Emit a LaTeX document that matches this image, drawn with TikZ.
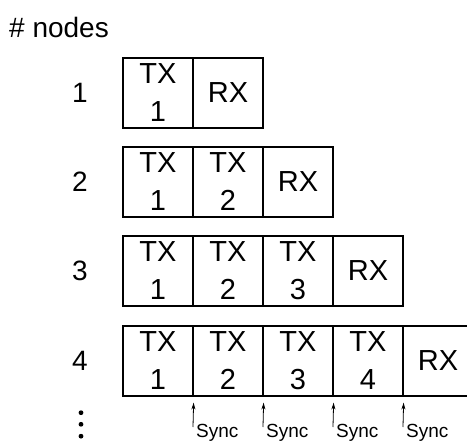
\documentclass[tikz,border=0pt]{standalone}
\usepackage{fontspec}
\setmainfont{Liberation Sans}
\usetikzlibrary{arrows.meta}
\begin{document}
\begin{tikzpicture}[x=1pt,y=-1pt,
  cell/.style={draw,line width=1.2pt,minimum width=70pt,minimum height=70pt,inner sep=0pt,align=center,font=\fontsize{29}{38}\selectfont},
  rowlab/.style={font=\fontsize{28}{32}\selectfont,inner sep=0pt},
  synclab/.style={font=\fontsize{19}{22}\selectfont,inner sep=0pt,anchor=base west},
  syncarrow/.style={line width=0.8pt,-{Stealth[length=7pt,width=4pt]}},
  dotmark/.style={fill=black,circle,inner sep=0pt,minimum size=4.8pt}]
\useasboundingbox (0,0) rectangle (467,442);
\clip (0,0) rectangle (467,442);
\node[font=\fontsize{28}{32}\selectfont,inner sep=0pt,anchor=base west] (title) at (9,37) {\# nodes};
% row 1
\node[rowlab] (l1) at (80,93) {1};
\node[cell] (r1a) at (158,93) {TX\\1};
\node[cell] (r1b) at (228,93) {RX};
% row 2
\node[rowlab] (l2) at (80,182) {2};
\node[cell] (r2a) at (158,182) {TX\\1};
\node[cell] (r2b) at (228,182) {TX\\2};
\node[cell] (r2c) at (298,182) {RX};
% row 3
\node[rowlab] (l3) at (80,271) {3};
\node[cell] (r3a) at (158,271) {TX\\1};
\node[cell] (r3b) at (228,271) {TX\\2};
\node[cell] (r3c) at (298,271) {TX\\3};
\node[cell] (r3d) at (368,271) {RX};
% row 4
\node[rowlab] (l4) at (80,361) {4};
\node[cell] (r4a) at (158,361) {TX\\1};
\node[cell] (r4b) at (228,361) {TX\\2};
\node[cell] (r4c) at (298,361) {TX\\3};
\node[cell] (r4d) at (368,361) {TX\\4};
\node[cell] (r4e) at (438,361) {RX};
% dots
\node[dotmark] (d1) at (81,412.7) {};
\node[dotmark] (d2) at (81,424.3) {};
\node[dotmark] (d3) at (81,436.2) {};
% sync arrows
\foreach \n/\x in {a/193,b/263,c/333,d/403}{
  \coordinate (s\n) at (\x,427);
  \draw[syncarrow] (s\n) -- ([yshift=-6pt]r4\n.south east);
  \node[synclab] (t\n) at (\x+3,437) {Sync};
}
\end{tikzpicture}
\end{document}
